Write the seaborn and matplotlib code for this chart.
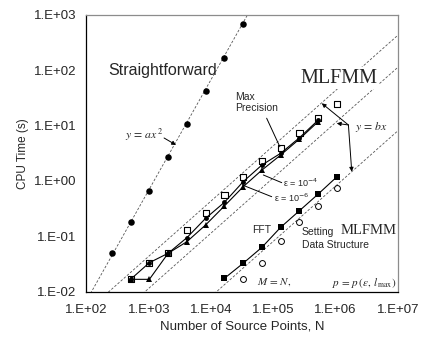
import matplotlib
matplotlib.use("Agg")
import matplotlib.pyplot as plt
import seaborn as sns

# straightforward (direct) evaluation
direct_n = [256, 512, 1024, 2048, 4096, 8192, 16384, 32768]
direct_t = [0.049, 0.178, 0.665, 2.67, 10.6, 42.3, 169, 679]

# MLFMM timings
mlfmm_n = [512, 1024, 2048, 4096, 8192, 16384, 32768, 65536, 131072, 262144, 524288, 1048576]
max_prec_t = [0.0166, 0.0332, 0.0491, 0.129, 0.259, 0.549, 1.16, 2.32, 3.89, 7.45, 13.6, 24.3]
eps6_t = [0.0166, 0.0332, 0.0491, 0.094, 0.211, 0.41, 0.968, 1.94, 3.16, 6.04, 12.6]
eps4_t = [0.0166, 0.0166, 0.0491, 0.0796, 0.16, 0.352, 0.785, 1.57, 2.94, 5.72, 11.8]

# FFT part and data structure setup
fft_n = [16384, 32768, 65536, 131072, 262144, 524288, 1048576]
fft_t = [0.0173, 0.0324, 0.063, 0.145, 0.289, 0.579, 1.19]
setup_n = [32768, 65536, 131072, 262144, 524288, 1048576]
setup_t = [0.0168, 0.0324, 0.083, 0.178, 0.356, 0.735]

# guide lines y = a x^2 and y = b x
coef_a = 6.8e-7
coef_b = [4.33e-5, 1.14e-5, 8.1e-7]
guide_n = [1e2, 1e7]

x_ticks = [1e2, 1e3, 1e4, 1e5, 1e6, 1e7]
x_tick_labels = ["1.E+02", "1.E+03", "1.E+04", "1.E+05", "1.E+06", "1.E+07"]
y_ticks = [1e-2, 1e-1, 1e0, 1e1, 1e2, 1e3]
y_tick_labels = ["1.E-02", "1.E-01", "1.E+00", "1.E+01", "1.E+02", "1.E+03"]

sns.set_style("white")
plt.rcParams["font.family"] = ["Liberation Sans", "DejaVu Sans"]

fig = plt.figure(figsize=(4.24, 3.37), dpi=100)
ax = fig.add_axes([0.2038, 0.135, 0.7349, 0.8205])
ax.set_xscale("log")
ax.set_yscale("log")

dash = (0, (3, 2))
guide_col = "#555555"

# dashed guide lines
sns.lineplot(x=guide_n, y=[coef_a * n ** 2 for n in guide_n], color=guide_col,
             lw=0.6, linestyle=dash, ax=ax, zorder=1)
for b in coef_b:
    sns.lineplot(x=guide_n, y=[b * n for n in guide_n], color=guide_col,
                 lw=0.6, linestyle=dash, ax=ax, zorder=1)

# data
sns.scatterplot(x=direct_n, y=direct_t, marker="o", color="black", s=22,
                edgecolor="black", linewidth=0, ax=ax, zorder=3)
sns.lineplot(x=mlfmm_n[:-1], y=eps6_t, color="black", lw=0.8, marker="o",
             markersize=3.5, markeredgewidth=0, ax=ax, zorder=3)
sns.lineplot(x=mlfmm_n[:-1], y=eps4_t, color="black", lw=0.8, marker="^",
             markersize=4, markeredgewidth=0, ax=ax, zorder=3)
sns.scatterplot(x=mlfmm_n, y=max_prec_t, marker="s", s=20, facecolor="none",
                edgecolor="black", linewidth=0.8, ax=ax, zorder=4)
sns.lineplot(x=fft_n, y=fft_t, color="black", lw=0.8, marker="s",
             markersize=4.2, markeredgewidth=0, ax=ax, zorder=3)
sns.scatterplot(x=setup_n, y=setup_t, marker="o", s=18, facecolor="white",
                edgecolor="black", linewidth=0.7, ax=ax, zorder=3)

ax.set_xlim(1e2, 1e7)
ax.set_ylim(1e-2, 1e3)
ax.set_xticks(x_ticks)
ax.set_xticklabels(x_tick_labels)
ax.set_yticks(y_ticks)
ax.set_yticklabels(y_tick_labels)
ax.minorticks_off()
ax.tick_params(axis="both", direction="out", length=4, width=0.8, color="black",
               labelsize=9.5, pad=3)
ax.tick_params(axis="x", pad=5)
ax.set_xlabel("Number of Source Points, N", fontsize=9.5, labelpad=3)
ax.set_ylabel("CPU Time (s)", fontsize=8.5, labelpad=4)

for side in ["left", "bottom"]:
    ax.spines[side].set_color("black")
    ax.spines[side].set_linewidth(0.9)
for side in ["top", "right"]:
    ax.spines[side].set_color("#8c8c8c")
    ax.spines[side].set_linewidth(0.9)

# labels and notes
ax.text(222, 101, "Straightforward", fontsize=11.5, ha="left", va="center")
ax.text(2.69e5, 72, "MLFMM", fontsize=14.5, family="Liberation Serif", ha="left",
        va="center", zorder=5,
        bbox=dict(facecolor="white", edgecolor="none", pad=1))
ax.text(1.18e6, 0.129, "MLFMM", fontsize=10.5, family="Liberation Serif",
        ha="left", va="center", zorder=5)
ax.text(2.43e4, 26, "Max\nPrecision", fontsize=7.5, ha="left", va="center",
        linespacing=1.2)
ax.plot([7.8e4, 1.27e5], [13.6, 4.15], color="black", lw=0.7)
ax.text(4.5e4, 0.129, "FFT", fontsize=7.5, ha="left", va="center")
ax.text(2.86e5, 0.1205, "Setting", fontsize=7.5, ha="left", va="center")
ax.text(2.86e5, 0.0693, "Data Structure", fontsize=7.5, ha="left", va="center")

ax.text(1.445e5, 0.927, "ε = 10$^{-4}$", fontsize=6.5, ha="left", va="center",
        math_fontfamily="dejavusans")
ax.plot([6.9e4, 1.36e5], [1.28, 0.93], color="black", lw=0.7)
ax.text(1.04e5, 0.497, "ε = 10$^{-6}$", fontsize=6.5, ha="left", va="center",
        math_fontfamily="dejavusans")
ax.plot([3.18e4, 9.4e4], [0.843, 0.518], color="black", lw=0.7)

arrow = dict(arrowstyle="-|>", color="black", lw=0.7, mutation_scale=6,
             shrinkA=0, shrinkB=0)
ax.text(418, 6.76, r"$y\,=\,ax^{\,2}$", fontsize=8.5, ha="left", va="center",
        math_fontfamily="stix")
ax.annotate("", xy=(2740, 4.46), xytext=(1763, 5.97), arrowprops=arrow)

ax.text(2.05e6, 9.44, r"$y\,=\,bx$", fontsize=8.5, ha="left", va="center",
        math_fontfamily="stix")
for tip in [(5.98e5, 25.3), (1.04e6, 11.0), (1.81e6, 1.47)]:
    ax.annotate("", xy=tip, xytext=(1.6e6, 10.26), arrowprops=arrow)

ax.text(5.4e4, 0.01503, r"$M\,=\,N,$", fontsize=8, ha="left", va="center",
        math_fontfamily="stix")
ax.text(9.3e6, 0.01426, r"$p\,=\,p\,(\varepsilon,\,l_{\,\mathrm{max}})$",
        fontsize=8, ha="right", va="center", math_fontfamily="stix")

fig.savefig("out.png", dpi=100)
